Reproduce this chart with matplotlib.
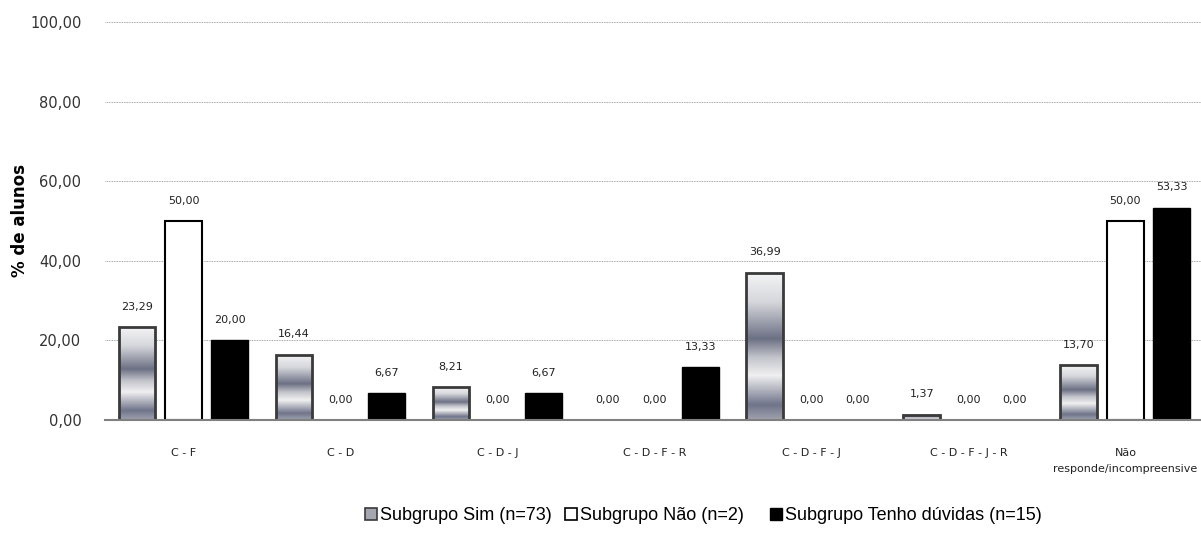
import numpy as np
import matplotlib
matplotlib.use("Agg")
import matplotlib.pyplot as plt
from matplotlib.colors import LinearSegmentedColormap
from matplotlib.lines import Line2D

plt.rcParams['font.family'] = ['Liberation Sans Narrow', 'Liberation Sans', 'DejaVu Sans']

# Categories and percentages per subgroup
categories = ["C - F", "C - D", "C - D - J", "C - D - F - R", "C - D - F - J",
              "C - D - F - J - R", "Não\nresponde/incompreensive"]
sim_vals = [23.29, 16.44, 8.21, 0.00, 36.99, 1.37, 13.70]
nao_vals = [50.00, 0.00, 0.00, 0.00, 0.00, 0.00, 50.00]
duv_vals = [20.00, 6.67, 6.67, 13.33, 0.00, 0.00, 53.33]
series_labels = ["Subgrupo Sim (n=73)", "Subgrupo Não (n=2)", "Subgrupo Tenho dúvidas (n=15)"]
y_ticks = [0, 20, 40, 60, 80, 100]


def fmt(v):
    return "{0:.2f}".format(v).replace(".", ",")


fig = plt.figure(figsize=(12.01, 5.48), dpi=100)
ax = fig.add_axes([0.0874, 0.2336, 0.915, 0.7263])

x = np.arange(len(categories))
offset = 0.296
width = 0.235

# metallic banded fill used for the "Sim" bars (top -> bottom)
metal = LinearSegmentedColormap.from_list(
    "metal", [(0.0, "#f4f4f5"), (0.2, "#d6d7dc"), (0.45, "#6c7084"), (0.58, "#c4c5cc"),
              (0.7, "#f0f0f1"), (0.9, "#70748a"), (1.0, "#9fa1ad")])
grad = np.linspace(0, 1, 200).reshape(-1, 1)

for xi, v in zip(x - offset, sim_vals):
    if v > 0:
        ax.imshow(grad, cmap=metal, extent=(xi - width / 2, xi + width / 2, 0, v), origin="upper",
                  aspect="auto", zorder=2, interpolation="bilinear")
        ax.bar(xi, v, width, facecolor="none", edgecolor="#3a3a3a", linewidth=2, zorder=3)
for xi, v in zip(x, nao_vals):
    if v > 0:
        ax.bar(xi, v, width, facecolor="white", edgecolor="black", linewidth=1.5, zorder=3)
for xi, v in zip(x + offset, duv_vals):
    if v > 0:
        ax.bar(xi, v, width, facecolor="black", edgecolor="black", linewidth=1, zorder=3)

# value labels
for xs, vals in ((x - offset, sim_vals), (x, nao_vals), (x + offset, duv_vals)):
    for xi, v in zip(xs, vals):
        ax.annotate(fmt(v), (xi, v), xytext=(0, 11), textcoords="offset points",
                    ha="center", va="bottom", fontsize=8, color="#222222",
                    family=['DejaVu Sans'])

ax.set_xlim(-0.5, len(categories) - 0.5)
ax.set_ylim(0, 100)
ax.set_yticks(y_ticks)
ax.set_yticklabels([fmt(t) for t in y_ticks], fontsize=10.5, color="#333333", family=['DejaVu Sans'])
ax.set_xticks(x)
ax.set_xticklabels(categories, fontsize=8, color="#222222", family=['DejaVu Sans'], linespacing=1.8)
ax.tick_params(axis="x", length=0, pad=20)
ax.tick_params(axis="y", length=0, pad=17)
ax.grid(axis="y", color="#888888", linestyle=(0, (1, 1)), linewidth=0.6, zorder=0)
for side in ("top", "right", "left"):
    ax.spines[side].set_visible(False)
ax.spines["bottom"].set_color("#808080")
ax.spines["bottom"].set_linewidth(1.5)
ax.spines["bottom"].set_zorder(4)
ax.set_ylabel("% de alunos", fontsize=12, fontweight="bold", family=['DejaVu Sans'], labelpad=1)

handles = [
    Line2D([], [], marker="s", linestyle="none", markersize=8, markerfacecolor="#a3a5b0",
           markeredgecolor="#3a3a3a", markeredgewidth=1.2),
    Line2D([], [], marker="s", linestyle="none", markersize=8, markerfacecolor="white",
           markeredgecolor="black", markeredgewidth=1.2),
    Line2D([], [], marker="s", linestyle="none", markersize=8, markerfacecolor="black",
           markeredgecolor="black"),
]
# one entry per legend so each sits at its own column start
legend_x = [362, 562, 767]
for h, lab, lx in zip(handles, series_labels, legend_x):
    fig.legend([h], [lab], loc="center left", bbox_to_anchor=(lx / 1201, 1 - 516 / 548),
               frameon=False, fontsize=13, handletextpad=0.0, handlelength=1.0,
               borderpad=0, borderaxespad=0)

fig.savefig("out.png", dpi=100)
